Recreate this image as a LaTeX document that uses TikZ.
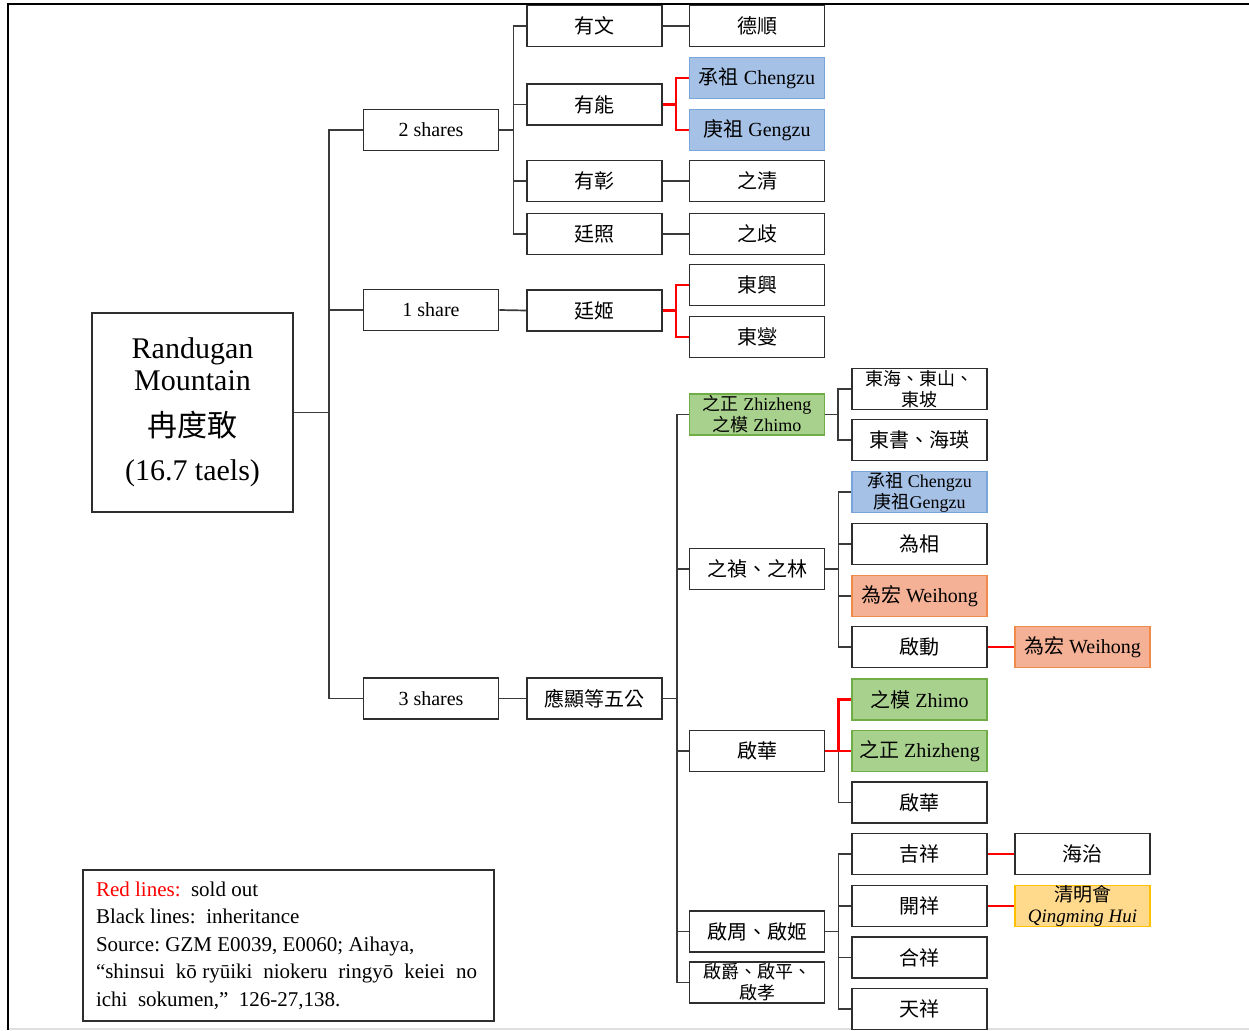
\documentclass[tikz,border=0pt]{standalone}
\usepackage{fontspec}
\setmainfont{Liberation Serif}
\newfontfamily\cjk{Noto Sans CJK TC}
\newcommand\zh[1]{{\cjk #1}}
\usetikzlibrary{calc}
\definecolor{bluefill}{HTML}{A6C1E6}
\definecolor{blueline}{HTML}{7AA5DA}
\definecolor{greenfill}{HTML}{A9D18E}
\definecolor{greenline}{HTML}{70AD47}
\definecolor{orangefill}{HTML}{F5B196}
\definecolor{orangeline}{HTML}{F08A4B}
\definecolor{yellowfill}{HTML}{FFD98C}
\definecolor{yellowline}{HTML}{FFC000}
\definecolor{boxline}{HTML}{2E2E2E}
\definecolor{linkline}{HTML}{3A3A3A}
\begin{document}
\begin{tikzpicture}[x=1pt,y=-1pt,
  box/.style={draw=boxline, line width=1.7pt, fill=white, minimum width=135pt, minimum height=41pt, inner sep=0pt, align=center, font=\fontsize{20}{22}\selectfont},
  small/.style={font=\fontsize{18}{21}\selectfont},
  bluebox/.style={box, fill=bluefill, draw=blueline, line width=1.3pt},
  greenbox/.style={box, fill=greenfill, draw=greenline, line width=1.3pt},
  orangebox/.style={box, fill=orangefill, draw=orangeline, line width=1.3pt},
  yellowbox/.style={box, fill=yellowfill, draw=yellowline, line width=1.3pt},
  link/.style={draw=linkline, line width=1.7pt},
  sold/.style={draw=red, line width=2.3pt},
]
\useasboundingbox (0,0) rectangle (1249,1030);
% frame
\draw[line width=2.2pt] (8,1030) -- (8,4) -- (1249,4);
\draw[black!12, line width=2pt] (9,1029) -- (1249,1029);

% root
\node[box, minimum width=201pt, minimum height=199pt, font=\fontsize{30}{32}\selectfont] (root) at (192.5,412.5)
  {Randugan\\Mountain\\[14pt]\zh{冉度敢}\\[12pt](16.7 taels)};

% shares
\node[box] (s2) at (431,130) {2 shares};
\node[box] (s1) at (431,310) {1 share};
\node[box] (s3) at (431,698.5) {3 shares};

% column C
\node[box] (c1) at (594.5,26) {\zh{有文}};
\node[box] (c2) at (594.5,104.5) {\zh{有能}};
\node[box] (c3) at (594.5,181) {\zh{有彰}};
\node[box] (c4) at (594.5,234) {\zh{廷照}};
\node[box] (c5) at (594.5,310.5) {\zh{廷姬}};
\node[box] (c6) at (594.5,698.5) {\zh{應顯等五公}};

% column D upper
\node[box] (d1) at (757,26) {\zh{德順}};
\node[bluebox] (d2) at (757,78) {\zh{承祖} Chengzu};
\node[bluebox] (d3) at (757,130) {\zh{庚祖} Gengzu};
\node[box] (d4) at (757,181) {\zh{之清}};
\node[box] (d5) at (757,234) {\zh{之歧}};
\node[box] (d6) at (757,285) {\zh{東興}};
\node[box] (d7) at (757,337) {\zh{東燮}};

% column D lower
\node[greenbox, small] (g1) at (757,414.5) {\zh{之正} Zhizheng\\\zh{之模} Zhimo};
\node[box] (g2) at (757,569) {\zh{之禎、之林}};
\node[box] (g3) at (757,751) {\zh{啟華}};
\node[box] (g4) at (757,931.5) {\zh{啟周、啟姬}};
\node[box, small] (g5) at (757,982.5) {\zh{啟爵、啟平、}\\\zh{啟孝}};

% column E
\node[box, small] (e1) at (919.5,389) {\zh{東海、東山、}\\\zh{東坡}};
\node[box] (e2) at (919.5,440) {\zh{東書、海瑛}};
\node[bluebox, small] (e3) at (919.5,492) {\zh{承祖} Chengzu\\\zh{庚祖}Gengzu};
\node[box] (e4) at (919.5,544) {\zh{為相}};
\node[orangebox] (e5) at (919.5,596) {\zh{為宏} Weihong};
\node[box] (e6) at (919.5,647) {\zh{啟動}};
\node[greenbox] (e7) at (919.5,699.5) {\zh{之模} Zhimo};
\node[greenbox] (e8) at (919.5,751) {\zh{之正} Zhizheng};
\node[box] (e9) at (919.5,802.5) {\zh{啟華}};
\node[box] (e10) at (919.5,854) {\zh{吉祥}};
\node[box] (e11) at (919.5,906) {\zh{開祥}};
\node[box] (e12) at (919.5,957.5) {\zh{合祥}};
\node[box] (e13) at (919.5,1009) {\zh{天祥}};

% column F
\node[orangebox] (f1) at (1082.5,647) {\zh{為宏} Weihong};
\node[box] (f2) at (1082.5,854) {\zh{海治}};
\node[yellowbox, font=\fontsize{19}{21}\selectfont] (f3) at (1082.5,906) {\zh{清明會}\\\textit{Qingming Hui}};

% connectors
\foreach \n in {s2,s1,s3} \draw[link] (root.east) -- ++(35,0) |- (\n.west);
\foreach \n in {c1,c2,c3,c4} \draw[link] (s2.east) -- ++(14,0) |- (\n.west);
\draw[link] (s1.east) -- (c5.west);
\draw[link] (s3.east) -- (c6.west);
\draw[link] (c1.east) -- (d1.west);
\draw[link] (c3.east) -- (d4.west);
\draw[link] (c4.east) -- (d5.west);
\foreach \n in {d2,d3} \draw[sold] (c2.east) -- ++(13,0) |- (\n.west);
\foreach \n in {d6,d7} \draw[sold] (c5.east) -- ++(13,0) |- (\n.west);
\foreach \n in {g1,g2,g3,g4,g5} \draw[link] (c6.east) -- ++(14,0) |- (\n.west);
\foreach \n in {e1,e2} \draw[link] (g1.east) -- ++(13,0) |- (\n.west);
\foreach \n in {e3,e4,e5,e6} \draw[link] (g2.east) -- ++(13,0) |- (\n.west);
\draw[sold] (e6.east) -- (f1.west);
\coordinate (qbus) at ($(g3.east)+(13,0)$);
\draw[link] (qbus) |- (e9.west);
\draw[sold] (g3.east) -- (qbus) |- (e7.west);
\draw[sold] (qbus) -- (e8.west);
\foreach \n in {e10,e11,e12,e13} \draw[link] (g4.east) -- ++(13,0) |- (\n.west);
\draw[sold] (e10.east) -- (f2.west);
\draw[sold] (e11.east) -- (f3.west);

% legend
\node[draw=boxline, line width=1.5pt, minimum width=411pt, minimum height=151pt, inner sep=0pt] (legend) at (288.5,945.5)
  {\parbox{385pt}{\fontsize{21}{27.5}\selectfont\raggedright
  {\color{red}Red lines:}\ \ sold out\\
  Black lines:\ \ inheritance\\
  Source:\ GZM E0039, E0060; Aihaya,\\
  \makebox[381pt][s]{“shinsui\ \ kō ryūiki\ \ niokeru\ \ ringyō\ \ keiei\ \ no}\\
  ichi\ \ sokumen,”\ \ 126-27,138.}};
\end{tikzpicture}
\end{document}
